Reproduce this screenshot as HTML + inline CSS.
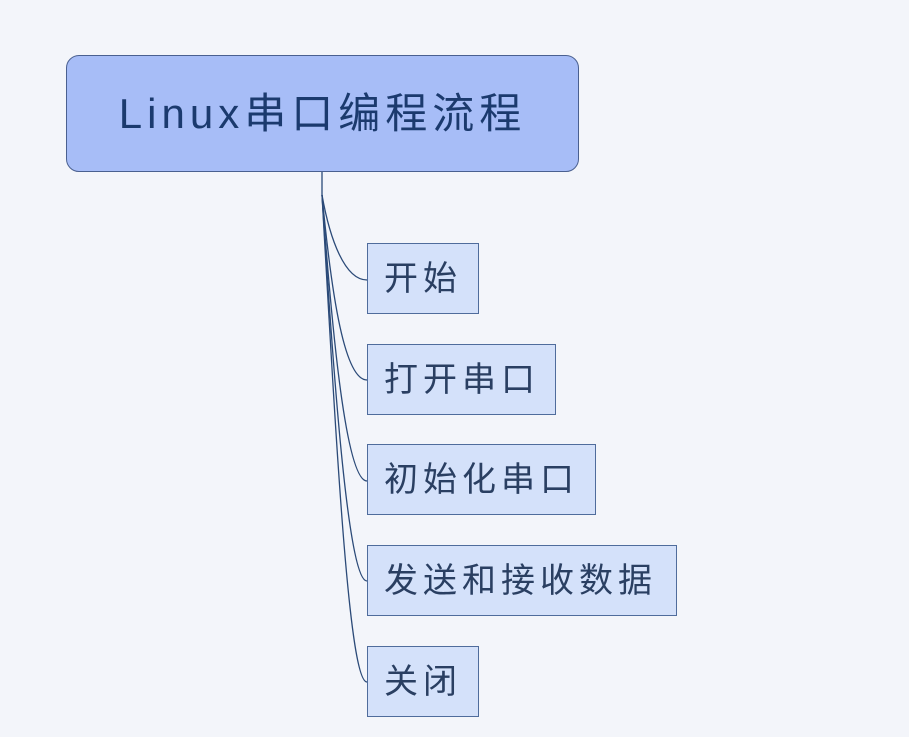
<!DOCTYPE html>
<html><head><meta charset="utf-8"><style>
body{margin:0;width:909px;height:737px;background:#f3f5fa;position:relative;overflow:hidden;font-family:"Liberation Sans","Noto Sans CJK SC",sans-serif;}
.main{position:absolute;left:66px;top:55px;width:511px;height:115px;border:1.5px solid #4a6090;border-radius:13px;background:#a7bdf7;color:#1b3a6e;font-size:42px;letter-spacing:5px;line-height:115px;text-align:center;box-sizing:content-box;}
.c{position:absolute;left:367px;height:71px;border:1.5px solid #4f6c9c;background:#d4e1fa;color:#2a3f62;font-size:34px;letter-spacing:5px;line-height:71px;padding-left:16px;box-sizing:border-box;}
svg{position:absolute;left:0;top:0}
</style></head><body>
<svg width="909" height="737">
<g fill="none" stroke="#2b4a78" stroke-width="1.3">
<path d="M322 172 L322 195"/>
<path d="M322 195 C330 240,345 280,367 280"/>
<path d="M322 195 C332 300,345 380,367 380"/>
<path d="M322 195 C334 360,348 481,367 481"/>
<path d="M322 195 C336 420,350 581,367 581"/>
<path d="M322 195 C338 480,350 682,367 682"/>
</g>
</svg>
<div class="main">Linux串口编程流程</div>
<div class="c" style="top:243px;width:112px">开始</div>
<div class="c" style="top:344px;width:189px">打开串口</div>
<div class="c" style="top:444px;width:229px">初始化串口</div>
<div class="c" style="top:545px;width:310px">发送和接收数据</div>
<div class="c" style="top:646px;width:112px">关闭</div>
</body></html>
